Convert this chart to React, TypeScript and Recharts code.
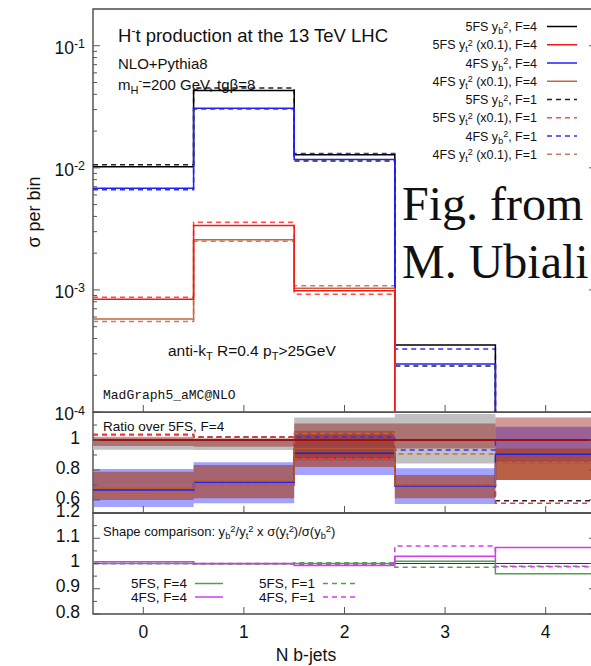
import React from "react";
import { ComposedChart, Line, Area, XAxis, YAxis, ReferenceArea } from "recharts";

const binEdges = [-0.5, 0.5, 1.5, 2.5, 3.5, 4.5];
const nJetTicks = [0, 1, 2, 3, 4];

// sigma per bin, N b-jets = 0..4 (values under 1e-4 drop off the plot)
const sig5FSybF4 = [0.0102, 0.043, 0.0128, 3.54e-4, 6.0e-5];
const sig5FSytF4 = [8.4e-4, 3.37e-3, 9.85e-4, 8.0e-5, 3.0e-5];
const sig4FSybF4 = [0.0068, 0.0308, 0.0117, 2.47e-4, 5.4e-5];
const sig4FSytF4 = [5.78e-4, 2.57e-3, 1.03e-3, 5.6e-5, 2.5e-5];
const sig5FSybF1 = [0.0106, 0.045, 0.0114, 2.38e-4, 3.6e-5];
const sig5FSytF1 = [8.71e-4, 3.59e-3, 9.2e-4, 5.6e-5, 1.7e-5];
const sig4FSybF1 = [0.0066, 0.0303, 0.0131, 3.28e-4, 5.5e-5];
const sig4FSytF1 = [5.5e-4, 2.5e-3, 1.08e-3, 7.0e-5, 2.2e-5];

// ratio over 5FS, F=4
const rat5FSybF4 = [1, 1, 1, 1, 1];
const rat5FSytF4 = [1, 1, 1, 1, 1];
const rat4FSybF4 = [0.667, 0.718, 0.911, 0.693, 0.905];
const rat4FSytF4 = [0.678, 0.727, 0.944, 0.7, 0.844];
const rat5FSybF1 = [1.035, 1.02, 0.878, 0.7, 0.595];
const rat5FSytF1 = [1.038, 1.018, 0.878, 0.7, 0.578];
const rat4FSybF1 = [0.638, 0.7, 1.02, 0.933, 1.0];
const rat4FSytF1 = [0.638, 0.7, 1.044, 0.907, 0.85];

// uncertainty bands (low / high) in the ratio panel
const band5FSybLo = [0.935, 0.933, 0.86, 0.844, 1.173];
const band5FSybHi = [1.01, 1.005, 1.151, 1.173, 1.173];
const band4FSybLo = [0.553, 0.578, 0.767, 0.573, 0.85];
const band4FSybHi = [0.807, 0.851, 1.04, 0.811, 1.089];
const band5FSytLo = [0.96, 0.955, 0.88, 0.944, 0.733];
const band5FSytHi = [1.022, 1.011, 1.111, 1.111, 1.151];
const band4FSytLo = [0.6, 0.611, 0.82, 0.611, 0.733];
const band4FSytHi = [0.789, 0.833, 1.06, 0.767, 0.944];

// shape comparison
const shape5FSF4 = [1.0, 0.999, 1.0, 1.009, 0.959];
const shape4FSF4 = [1.007, 1.0, 0.992, 1.029, 1.063];
const shape5FSF1 = [1.0, 1.0, 1.003, 0.985, 0.989];
const shape4FSF1 = [1.0, 0.998, 0.996, 1.069, 0.987];
const shapeUnity = [1, 1, 1, 1, 1];

const logTicks: number[] = [];
[1e-4, 1e-3, 1e-2].forEach((d) => {
  for (let m = 1; m < 10; m++) logTicks.push(d * m);
});
logTicks.push(0.1);
const ratioTicks = [0.6, 0.7, 0.8, 0.9, 1, 1.1];
const ratioLabels = [0.6, 0.8, 1];
const shapeTicks = [0.8, 0.85, 0.9, 0.95, 1, 1.05, 1.1, 1.15, 1.2];
const shapeLabels = [0.8, 0.9, 1, 1.1, 1.2];

const FONT = "'Liberation Sans', Arial, Helvetica, sans-serif";
const AXIS = "#555";
const FRAME = "#4a4a4a";
const DASH = "5 4";

// build step rows: one row per bin edge, last bin repeated at the right edge
function rowsFrom(cols: Record<string, number[]>, bands: Record<string, [number[], number[]]> = {}) {
  return binEdges.map((x, i) => {
    const b = Math.min(i, nJetTicks.length - 1);
    const row: Record<string, number | number[]> = { x };
    Object.entries(cols).forEach(([k, v]) => (row[k] = v[b]));
    Object.entries(bands).forEach(([k, [lo, hi]]) => (row[k] = [lo[b], hi[b]]));
    return row;
  });
}

const mainRows = rowsFrom({
  s5ybF4: sig5FSybF4, s5ytF4: sig5FSytF4, s4ybF4: sig4FSybF4, s4ytF4: sig4FSytF4,
  s5ybF1: sig5FSybF1, s5ytF1: sig5FSytF1, s4ybF1: sig4FSybF1, s4ytF1: sig4FSytF1,
});

const ratioRows = rowsFrom(
  {
    s5ybF4: rat5FSybF4, s5ytF4: rat5FSytF4, s4ybF4: rat4FSybF4, s4ytF4: rat4FSytF4,
    s5ybF1: rat5FSybF1, s5ytF1: rat5FSytF1, s4ybF1: rat4FSybF1, s4ytF1: rat4FSytF1,
  },
  {
    b5yb: [band5FSybLo, band5FSybHi],
    b4yb: [band4FSybLo, band4FSybHi],
    b5yt: [band5FSytLo, band5FSytHi],
    b4yt: [band4FSytLo, band4FSytHi],
  }
);

const shapeRows = rowsFrom({
  unity: shapeUnity, g4: shape5FSF4, m4: shape4FSF4, g1: shape5FSF1, m1: shape4FSF1,
});

const SERIES = [
  { key: "s5ybF1", color: "#222222", ratio: "#222222", dash: DASH, fs: "5FS", q: "b", F: "1" },
  { key: "s4ybF1", color: "#3030ff", ratio: "#3030ff", dash: DASH, fs: "4FS", q: "b", F: "1" },
  { key: "s5ytF1", color: "#ff4a4a", ratio: "#ff3030", dash: DASH, fs: "5FS", q: "t", F: "1" },
  { key: "s4ytF1", color: "#d07a55", ratio: "#c86a40", dash: DASH, fs: "4FS", q: "t", F: "1" },
  { key: "s5ybF4", color: "#000000", ratio: "#000000", dash: undefined, fs: "5FS", q: "b", F: "4" },
  { key: "s4ybF4", color: "#2020ff", ratio: "#2020e0", dash: undefined, fs: "4FS", q: "b", F: "4" },
  { key: "s4ytF4", color: "#c8643c", ratio: "#b85a30", dash: undefined, fs: "4FS", q: "t", F: "4" },
  { key: "s5ytF4", color: "#f01818", ratio: "#c01010", dash: undefined, fs: "5FS", q: "t", F: "4" },
];

const LEGEND_ORDER = ["s5ybF4", "s5ytF4", "s4ybF4", "s4ytF4", "s5ybF1", "s5ytF1", "s4ybF1", "s4ytF1"];

const SHAPE_SERIES = [
  { key: "g1", color: "#4fa04f", dash: DASH, label: "5FS, F=1" },
  { key: "m1", color: "#d23cf0", dash: DASH, label: "4FS, F=1" },
  { key: "g4", color: "#4fa04f", dash: undefined, label: "5FS, F=4" },
  { key: "m4", color: "#d23cf0", dash: undefined, label: "4FS, F=4" },
];

function XTickIn({ x, y }: any) {
  return <line x1={x} x2={x} y1={y} y2={y - 7} stroke={AXIS} strokeWidth={1} />;
}

function XTickLabeled({ x, y, payload }: any) {
  return (
    <g>
      <line x1={x} x2={x} y1={y} y2={y - 7} stroke={AXIS} strokeWidth={1} />
      <text x={x} y={y + 23.5} textAnchor="middle" fontFamily={FONT} fontSize={17.5} fill="#111">
        {payload.value}
      </text>
    </g>
  );
}

function LogTickLeft({ x, y, payload }: any) {
  const e = Math.log10(payload.value);
  const major = Math.abs(e - Math.round(e)) < 1e-9;
  return (
    <g>
      <line x1={x + 8} x2={x + 8 + (major ? 7 : 4)} y1={y} y2={y} stroke={AXIS} strokeWidth={1} />
      {major && (
        <text x={x} y={y + 8} textAnchor="end" fontFamily={FONT} fontSize={17.5} fill="#111">
          10<tspan dy={-5.5} fontSize={12.5}>{Math.round(e)}</tspan>
        </text>
      )}
    </g>
  );
}

function LogTickRight({ x, y, payload }: any) {
  const e = Math.log10(payload.value);
  const major = Math.abs(e - Math.round(e)) < 1e-9;
  return <line x1={x} x2={x - (major ? 7 : 4)} y1={y} y2={y} stroke={AXIS} strokeWidth={1} />;
}

const linTickLeft = (labels: number[], dyLabel: number) =>
  function LinTick({ x, y, payload }: any) {
    const v = payload.value;
    const major = labels.some((l) => Math.abs(l - v) < 1e-9);
    return (
      <g>
        <line x1={x + 8} x2={x + 8 + (major ? 7 : 4)} y1={y} y2={y} stroke={AXIS} strokeWidth={1} />
        {major && (
          <text x={x - 5} y={y + dyLabel} textAnchor="end" fontFamily={FONT} fontSize={17.5} fill="#111">
            {String(Math.round(v * 10) / 10)}
          </text>
        )}
      </g>
    );
  };

const linTickRight = (labels: number[]) =>
  function LinTickR({ x, y, payload }: any) {
    const major = labels.some((l) => Math.abs(l - payload.value) < 1e-9);
    return <line x1={x} x2={x - (major ? 7 : 4)} y1={y} y2={y} stroke={AXIS} strokeWidth={1} />;
  };

const RatioTick = linTickLeft(ratioLabels, 4);
const RatioTickR = linTickRight(ratioLabels);
const ShapeTick = linTickLeft(shapeLabels, 3.5);
const ShapeTickR = linTickRight(shapeLabels);

function YSq({ sub, after }: { sub: string; after: string }) {
  return (
    <>
      <tspan dy={3} fontSize="0.72em">{sub}</tspan>
      <tspan dy={-6.5} fontSize="0.72em">2</tspan>
      <tspan dy={3.5}>{after}</tspan>
    </>
  );
}

function Overlay() {
  const byKey = Object.fromEntries(SERIES.map((s) => [s.key, s]));
  return (
    <svg width={591} height={666} style={{ position: "absolute", left: 0, top: 0, pointerEvents: "none" }}>
      <g fontFamily={FONT} fill="#111">
        <text x={118} y={41.5} fontSize={18.5}>
          H<tspan dy={-6.5} fontSize={12}>-</tspan>
          <tspan dy={6.5}>t production at the 13 TeV LHC</tspan>
        </text>
        <text x={118} y={68.5} fontSize={15}>NLO+Pythia8</text>
        <text x={118} y={89.5} fontSize={15}>
          m<tspan dy={4} fontSize={11}>H</tspan>
          <tspan dy={-10} fontSize={11}>-</tspan>
          <tspan dy={6}>=200 GeV, tgβ=8</tspan>
        </text>
        <text x={168} y={355.5} fontSize={15.5}>
          anti-k<tspan dy={4} fontSize={11}>T</tspan>
          <tspan dy={-4}> R=0.4 p</tspan>
          <tspan dy={4} fontSize={11}>T</tspan>
          <tspan dy={-4}>&gt;25GeV</tspan>
        </text>
        <text x={103} y={399} fontFamily="'Liberation Mono', 'Courier New', monospace" fontSize={13}>
          MadGraph5_aMC@NLO
        </text>
        <text x={402} y={220} fontFamily="'Liberation Serif', 'Times New Roman', serif" fontSize={48}>
          Fig. from
        </text>
        <text x={402} y={278} fontFamily="'Liberation Serif', 'Times New Roman', serif" fontSize={48}>
          M. Ubiali
        </text>

        {LEGEND_ORDER.map((k, i) => {
          const s = byKey[k];
          const base = 31 + i * 18.25;
          return (
            <g key={k}>
              <text x={537} y={base} textAnchor="end" fontSize={12.5}>
                {`${s.fs} y`}
                <YSq sub={s.q} after={`${s.q === "t" ? " (x0.1)" : ""}, F=${s.F}`} />
              </text>
              <line x1={547} x2={577} y1={base - 4.5} y2={base - 4.5} stroke={s.color} strokeWidth={1.5} strokeDasharray={s.dash} />
            </g>
          );
        })}

        <text x={103} y={431} fontSize={13.5}>Ratio over 5FS, F=4</text>
        <text x={103} y={535.5} fontSize={13}>
          Shape comparison: y<YSq sub="b" after="/y" />
          <YSq sub="t" after=" x σ(y" />
          <YSq sub="t" after=")/σ(y" />
          <YSq sub="b" after=")" />
        </text>

        {SHAPE_SERIES.map((s) => {
          const col = s.dash ? 1 : 0;
          const row = s.label.startsWith("5") ? 0 : 1;
          const base = 588 + row * 13.5;
          const xEnd = col ? 315 : 187;
          return (
            <g key={s.key}>
              <text x={xEnd} y={base} textAnchor="end" fontSize={13.5}>{s.label}</text>
              <line x1={xEnd + 8} x2={xEnd + (col ? 40 : 36)} y1={base - 4.5} y2={base - 4.5} stroke={s.color} strokeWidth={1.5} strokeDasharray={s.dash} />
            </g>
          );
        })}

        <text transform="rotate(-90 40 212)" x={40} y={212} textAnchor="middle" fontSize={18}>σ per bin</text>
        <text x={306} y={661} textAnchor="middle" fontSize={17.5}>N b-jets</text>
      </g>
    </svg>
  );
}

const xAxisProps = {
  dataKey: "x",
  type: "number" as const,
  domain: [-0.5, 4.5],
  ticks: nJetTicks,
  interval: 0 as const,
  axisLine: false,
  tickLine: false,
  tickSize: 0,
  tickMargin: 0,
  allowDataOverflow: true,
};

export default function App() {
  return (
    <div style={{ position: "absolute", left: 0, top: 0, width: 591, height: 666, overflow: "hidden", background: "#fff" }}>
      <div style={{ position: "absolute", left: 0, top: 0 }}>
        <ComposedChart width={620} height={425} data={mainRows} margin={{ top: 9, right: 0, bottom: 12, left: 0 }}>
          <XAxis {...xAxisProps} height={1} tick={XTickIn} />
          <YAxis yAxisId="l" type="number" scale="log" domain={[1e-4, 0.2]} allowDataOverflow ticks={logTicks} interval={0}
            width={93} axisLine={false} tickLine={false} tickSize={0} tickMargin={8} tick={LogTickLeft} />
          <YAxis yAxisId="r" orientation="right" type="number" scale="log" domain={[1e-4, 0.2]} allowDataOverflow ticks={logTicks}
            interval={0} width={24} axisLine={false} tickLine={false} tickSize={0} tickMargin={0} tick={LogTickRight} />
          <ReferenceArea yAxisId="l" x1={-0.5} x2={4.5} y1={1e-4} y2={0.2} fill="none" stroke={FRAME} strokeWidth={1.4} ifOverflow="visible" />
          {SERIES.map((s) => (
            <Line key={s.key} yAxisId="l" dataKey={s.key} type="stepAfter" stroke={s.color} strokeWidth={1.5}
              strokeDasharray={s.dash} dot={false} activeDot={false} isAnimationActive={false} />
          ))}
        </ComposedChart>
      </div>

      <div style={{ position: "absolute", left: 0, top: 412 }}>
        <ComposedChart width={620} height={102} data={ratioRows} margin={{ top: 0, right: 0, bottom: 0, left: 0 }}>
          <XAxis {...xAxisProps} height={1} tick={XTickIn} />
          <YAxis yAxisId="l" type="number" domain={[0.513, 1.187]} allowDataOverflow ticks={ratioTicks} interval={0}
            width={93} axisLine={false} tickLine={false} tickSize={0} tickMargin={8} tick={RatioTick} />
          <YAxis yAxisId="r" orientation="right" type="number" domain={[0.513, 1.187]} allowDataOverflow ticks={ratioTicks}
            interval={0} width={24} axisLine={false} tickLine={false} tickSize={0} tickMargin={0} tick={RatioTickR} />
          <ReferenceArea yAxisId="l" x1={-0.5} x2={4.5} y1={0.513} y2={1.187} fill="none" stroke={FRAME} strokeWidth={1.4} ifOverflow="visible" />
          <Area yAxisId="l" dataKey="b5yb" type="stepAfter" stroke="none" fill="#c0c0c0" fillOpacity={1} isAnimationActive={false} />
          <Area yAxisId="l" dataKey="b4yb" type="stepAfter" stroke="none" fill="#6464ff" fillOpacity={0.6} isAnimationActive={false} />
          <Area yAxisId="l" dataKey="b5yt" type="stepAfter" stroke="none" fill="#8e0000" fillOpacity={0.4} isAnimationActive={false} />
          <Area yAxisId="l" dataKey="b4yt" type="stepAfter" stroke="none" fill="#a83a10" fillOpacity={0.6} isAnimationActive={false} />
          {SERIES.map((s) => (
            <Line key={s.key} yAxisId="l" dataKey={s.key} type="stepAfter" stroke={s.ratio} strokeWidth={1.5}
              strokeDasharray={s.dash} dot={false} activeDot={false} isAnimationActive={false} />
          ))}
        </ComposedChart>
      </div>

      <div style={{ position: "absolute", left: 0, top: 500 }}>
        <ComposedChart width={620} height={166} data={shapeRows} margin={{ top: 13, right: 0, bottom: 0, left: 0 }}>
          <XAxis {...xAxisProps} height={52} tick={XTickLabeled} />
          <YAxis yAxisId="l" type="number" domain={[0.8, 1.2]} allowDataOverflow ticks={shapeTicks} interval={0}
            width={93} axisLine={false} tickLine={false} tickSize={0} tickMargin={8} tick={ShapeTick} />
          <YAxis yAxisId="r" orientation="right" type="number" domain={[0.8, 1.2]} allowDataOverflow ticks={shapeTicks}
            interval={0} width={24} axisLine={false} tickLine={false} tickSize={0} tickMargin={0} tick={ShapeTickR} />
          <ReferenceArea yAxisId="l" x1={-0.5} x2={4.5} y1={0.8} y2={1.2} fill="none" stroke={FRAME} strokeWidth={1.4} ifOverflow="visible" />
          <Line yAxisId="l" dataKey="unity" type="linear" stroke="#333" strokeWidth={1} dot={false} activeDot={false} isAnimationActive={false} />
          {SHAPE_SERIES.map((s) => (
            <Line key={s.key} yAxisId="l" dataKey={s.key} type="stepAfter" stroke={s.color} strokeWidth={1.5}
              strokeDasharray={s.dash} dot={false} activeDot={false} isAnimationActive={false} />
          ))}
        </ComposedChart>
      </div>

      <Overlay />
    </div>
  );
}
